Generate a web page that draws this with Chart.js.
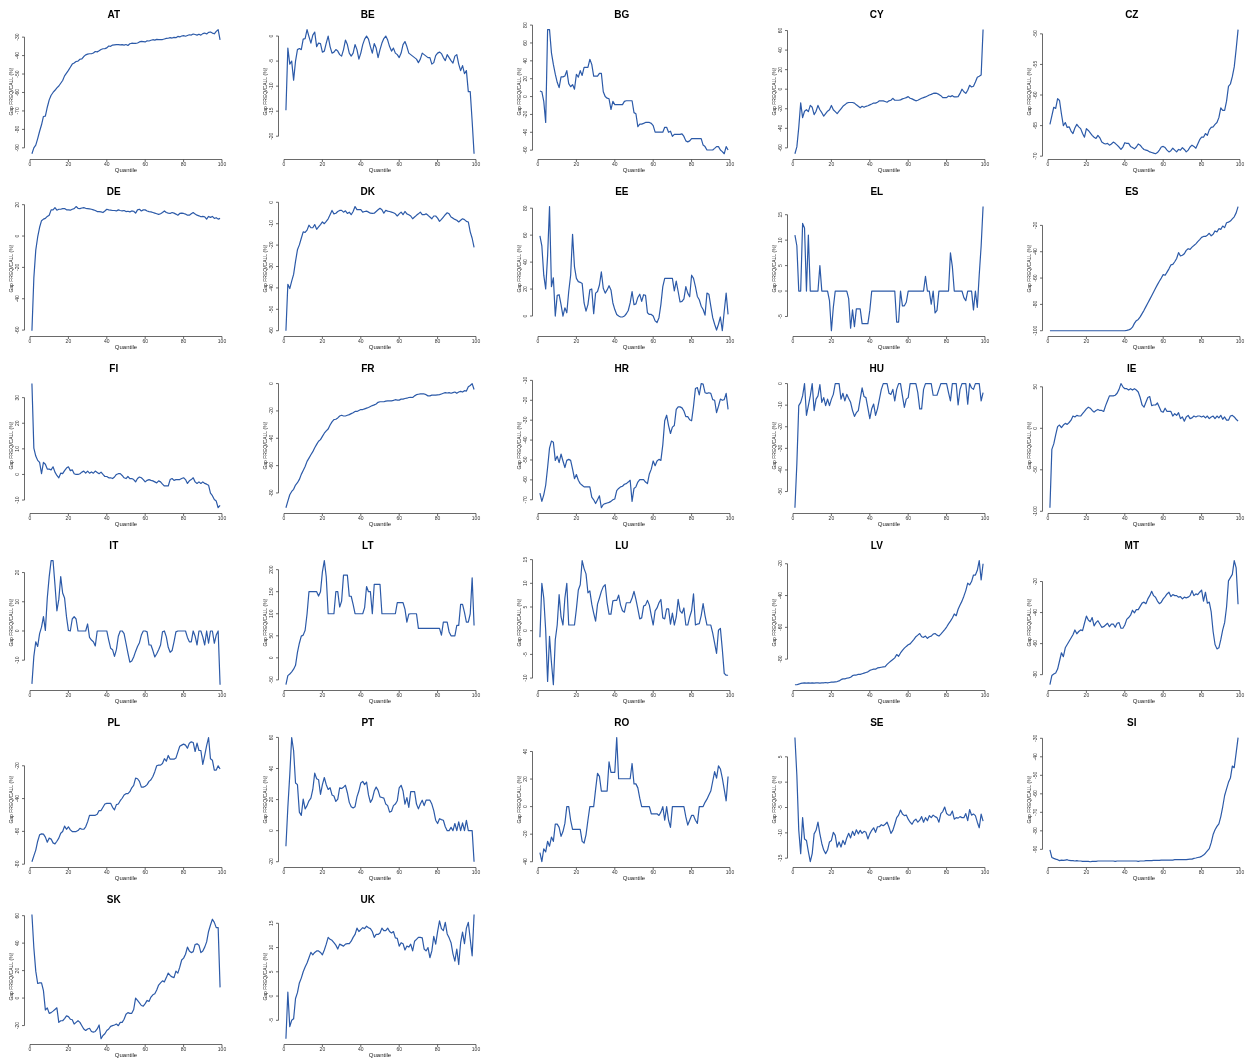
<!DOCTYPE html>
<html>
<head>
<meta charset="utf-8">
<title>Gap by quantile, by country</title>
<script src="https://cdn.jsdelivr.net/npm/chart.js@4.4.1/dist/chart.umd.min.js"></script>
<style>
  html, body { margin: 0; padding: 0; background: #fff; }
  #grid { position: relative; width: 1253px; height: 1061px; overflow: hidden; }
  #grid canvas { position: absolute; }
</style>
</head>
<body>
<div id="grid"></div>
<script>
// ============================================
// Data
// ============================================

const quantiles = [
  1, 2, 3, 4, 5, 6, 7, 8, 9, 10,
  11, 12, 13, 14, 15, 16, 17, 18, 19, 20,
  21, 22, 23, 24, 25, 26, 27, 28, 29, 30,
  31, 32, 33, 34, 35, 36, 37, 38, 39, 40,
  41, 42, 43, 44, 45, 46, 47, 48, 49, 50,
  51, 52, 53, 54, 55, 56, 57, 58, 59, 60,
  61, 62, 63, 64, 65, 66, 67, 68, 69, 70,
  71, 72, 73, 74, 75, 76, 77, 78, 79, 80,
  81, 82, 83, 84, 85, 86, 87, 88, 89, 90,
  91, 92, 93, 94, 95, 96, 97, 98, 99
];

const xTicks = [0, 20, 40, 60, 80, 100];

const AT = [
  -93.2, -90, -88.5, -85, -81, -77.5, -73, -72.8, -68, -64,
  -61.5, -60, -58.8, -57.5, -56.5, -55, -53.5, -51, -49.5, -48,
  -46.3, -44.6, -44, -43.2, -43, -42, -41.8, -40.5, -39.6, -39.2,
  -39, -39, -38.6, -37.8, -38, -37.4, -36.7, -36.3, -36.2, -35.8,
  -34.8, -35, -34.3, -34.2, -34.1, -34.1, -34.2, -34.1, -34.3, -34,
  -34.5, -33.6, -33.3, -33.4, -33.4, -33.2, -32.6, -32.3, -32.4, -32.6,
  -32, -32.1, -31.7, -31.4, -31.6, -31.2, -31.4, -31.4, -31.3, -31,
  -30.7, -30.6, -30.3, -30.5, -30.1, -30.3, -29.6, -29.9, -29.4, -29.2,
  -29.5, -29.1, -28.7, -28.9, -28.3, -28.6, -28.9, -28.4, -28.9, -28.1,
  -27.8, -28.3, -27.4, -27.2, -27.8, -28.2, -26.9, -25.9, -31.5
];
const AT_TICKS = [-90, -80, -70, -60, -50, -40, -30];

const BE = [
  -14.8, -2.4, -5.6, -5.0, -8.8, -5.0, -2.7, -2.5, -2.7, -0.6,
  -0.5, 1.3, -0.1, -1.4, 0.2, 0.8, -2.1, -1.4, -1.5, -3.2,
  -3.0, -1.4, 0.0, -2.1, -3.4, -3.2, -2.7, -3.0, -3.7, -4.0,
  -2.7, -0.8, -1.7, -3.4, -4.0, -3.4, -1.7, -2.7, -4.6, -3.4,
  -1.7, -0.6, 0.0, -0.6, -2.1, -3.4, -1.5, -2.4, -4.3, -2.7,
  -1.4, -0.5, 0.0, -0.8, -2.1, -3.0, -2.4, -3.4, -3.7, -4.3,
  -3.4, -1.7, -1.1, -2.1, -3.4, -3.7, -4.0, -4.3, -4.6, -5.3,
  -4.6, -3.4, -3.7, -4.0, -4.3, -4.3, -5.6, -5.3, -3.9, -3.4,
  -3.2, -3.5, -4.3, -4.9, -3.7, -4.3, -4.9, -5.4, -4.0, -3.7,
  -5.6, -6.9, -5.9, -7.5, -6.9, -11.1, -11.1, -17.0, -23.5
];
const BE_TICKS = [-20, -15, -10, -5, 0];

const BG = [
  6.2, 5.4, -5.4, -29, 75, 75, 49, 36, 25, 16,
  10, 22, 22, 23, 29, 14.5, 11, 13.4, 8.3, 25,
  21.7, 29, 23.6, 32.6, 32.6, 32.6, 41.7, 36, 22.8, 22.8,
  22.8, 26, 26, 5.4, 0, -1.8, -2.5, -14.5, -5.4, -9,
  -9, -9, -9, -9, -5.4, -4.7, -4.7, -4.7, -4.7, -18,
  -19.2, -33.7, -30.8, -30.8, -30, -29, -29, -29, -30, -32.6,
  -39.9, -39.9, -39.9, -39.9, -39.9, -34.4, -34.4, -40, -38.8, -44.6,
  -42.4, -42.4, -42.4, -42.4, -41.7, -44.6, -49.6, -50.7, -49.6, -47,
  -47, -47, -47, -47, -47, -54.3, -56, -59.8, -59.8, -59.8,
  -59.8, -58, -56, -56, -59.8, -61.6, -64, -56, -59.8
];
const BG_TICKS = [-60, -40, -20, 0, 20, 40, 60, 80];

const CY = [
  -66, -59, -39, -14, -29, -22.5, -21, -23, -16.5, -18.5,
  -26, -22.5, -16.6, -21, -24, -27.5, -25, -22.5, -21, -16.6,
  -21, -23, -25, -22.5, -20, -17.5, -16, -14.2, -13.6, -13.6,
  -13.6, -14.2, -16, -17.5, -19, -17.5, -18.5, -17.5, -16.9, -16,
  -15.2, -14.2, -14.2, -13.3, -11.9, -11.9, -11.9, -12.6, -13.3, -11.9,
  -11.3, -9.3, -11.3, -11.3, -11.3, -10.9, -9.9, -9.3, -8.6, -7.6,
  -9.3, -9.9, -10.9, -11.9, -11.3, -10.3, -9.3, -8.6, -7.9, -7,
  -5.9, -5.3, -4.3, -4, -4.3, -5.3, -6.6, -8.6, -8.6, -8.6,
  -7, -7.6, -6.6, -7.9, -7.9, -7.6, -4.3, 0, -2.6, -4.3,
  -1, 4, 2.3, 3, 7.3, 12.3, 13.3, 14.6, 61
];
const CY_TICKS = [-60, -40, -20, 0, 20, 40, 60];

const CZ = [
  -64.8, -63.4, -62.0, -62.2, -60.6, -60.9, -63.1, -65.0, -64.5, -65.3,
  -65.2, -65.9, -66.3, -65.4, -64.8, -65.2, -65.5, -66.3, -66.9, -65.5,
  -65.8, -66.2, -66.6, -66.9, -67.1, -66.6, -67.0, -67.7, -67.9, -68.0,
  -67.9, -68.2, -68.0, -67.7, -67.9, -68.2, -68.5, -68.9, -68.5, -67.8,
  -67.9, -67.9, -68.4, -68.6, -68.8, -68.5, -68.0, -68.2, -68.6, -68.9,
  -69.0, -69.1, -69.3, -69.4, -69.5, -69.6, -69.4, -69.0, -68.5, -68.4,
  -68.6, -69.0, -69.3, -69.1, -68.7, -69.0, -69.3, -68.9, -69.0, -68.6,
  -68.9, -69.3, -69.0, -68.5, -68.2, -68.4, -68.7, -68.0, -67.3, -66.9,
  -66.9, -66.3, -66.6, -65.7, -65.3, -65.2, -64.8, -64.5, -63.7, -62.1,
  -62.5, -62.5, -61.0, -58.6, -58.2, -57.0, -55.4, -52.5, -49.3
];
const CZ_TICKS = [-70, -65, -60, -55, -50];

const DE = [
  -60.4, -26.7, -9, -0.6, 5.6, 9.8, 10.8, 11.3, 12.5, 13.3,
  16.7, 16.7, 18.1, 16.5, 17.1, 17.1, 17.5, 17.5, 16.7, 16.7,
  16.5, 17.1, 17.5, 18.8, 17.7, 17.5, 17.9, 18.1, 17.7, 17.5,
  17.3, 17.1, 16.7, 16.3, 15.6, 15.6, 15.4, 15, 16, 17.1,
  16.7, 16.5, 16.3, 16.3, 16, 16.7, 16.3, 16, 16.3, 15.6,
  15.8, 15.4, 16, 15.8, 14.6, 16.7, 17.1, 16, 16.7, 16.7,
  16, 15.6, 15.4, 15, 14.6, 14.2, 13.8, 14.2, 15, 16,
  15, 14.6, 14.4, 15, 14.6, 14, 13.3, 14.4, 14.6, 14.4,
  14, 13.3, 13.3, 14.2, 15, 14, 13.3, 12.9, 12.3, 12.5,
  12.3, 10.8, 12.5, 11.9, 12.5, 11.3, 11.7, 10.8, 11.3
];
const DE_TICKS = [-60, -40, -20, 0, 20];

const DK = [
  -60, -38.3, -40.3, -36.8, -33.7, -27.6, -22.2, -19.9, -16.8, -13.8,
  -14.1, -13, -10.7, -11.9, -11.9, -10.4, -12.6, -11.5, -10.4, -9.2,
  -10, -8.9, -7.7, -5.8, -3.8, -5.4, -5.1, -4.3, -3.8, -3.8,
  -4.6, -4, -5.2, -4.6, -5.8, -4.3, -2, -3.4, -3.4, -3.4,
  -4.6, -4.3, -4.1, -4.6, -5.1, -5.2, -5.1, -4.3, -3.5, -2.8,
  -3.5, -5.1, -3.8, -4.1, -4.3, -4.6, -4.9, -5.4, -6.4, -5.4,
  -4.6, -5.8, -4.3, -5.4, -5.8, -6.4, -7.7, -6.9, -6.1, -5.4,
  -4.6, -5.8, -5.8, -5.4, -6.1, -6.9, -7.7, -6.4, -6.4, -7.4,
  -8.9, -8, -6.9, -5.8, -4.9, -5.4, -6.9, -7.4, -8, -8.4,
  -9.2, -8.4, -7.7, -8.1, -8.9, -9.2, -13.8, -16.8, -21.1
];
const DK_TICKS = [-60, -50, -40, -30, -20, -10, 0];

const EE = [
  59.4, 52.1, 30.3, 20.1, 44.8, 81.2, 21.8, 28.4, 0, 15.3,
  15.8, 8.5, 0, 6.1, 2.4, 18.2, 30.3, 60.6, 36.4, 27.9,
  25.5, 25, 24.2, 9.7, 3.6, 8.5, 19.4, 20.1, 1.7, 17,
  18.2, 23, 32.7, 20.6, 17, 19.4, 22.5, 19.4, 9.7, 4.8,
  1.2, 0, -0.7, -0.7, 0, 1.7, 4.1, 9.7, 18.2, 8.5,
  9, 13.8, 16.2, 10.9, 15.8, 15.3, 2.4, 1.2, 1.2, 0,
  -3.6, -4.8, -1.2, 8.5, 21.8, 27.9, 27.9, 27.9, 27.9, 27.9,
  18.7, 25.9, 18.2, 10.4, 10.9, 12.8, 21.8, 17, 14.3, 30.3,
  27.9, 21.8, 14.5, 12.1, 7.3, 4.8, 0.7, 17, 16.2, 7.3,
  -1.2, -6.1, -10.4, -6.1, -0.7, -10.9, 3.6, 17, 1.2
];
const EE_TICKS = [0, 20, 40, 60, 80];

const EL = [
  11, 8.9, 0, 0, 13.3, 12.4, 0, 11, 0, 0,
  0, 0, 0, 5, 0, 0, 0, 0, -1.9, -7.8,
  -3.2, 0, 0, 0, 0, 0, 0, 0, -1.5, -7.3,
  -3.7, -7, -3.5, -3.5, -3.5, -6.4, -6.4, -6.4, -6.4, -3.8,
  0, 0, 0, 0, 0, 0, 0, 0, 0, 0,
  0, 0, 0, -6.1, -6.1, 0, -2.9, -2.9, -2.2, 0,
  0, 0, 0, 0, 0, 0, 0, 0, 2.9, 0,
  0, -2.6, 0, -4.3, -3.8, 0, 0, 0, 0, 0,
  0, 7.5, 4.8, 0, 0, 0, 0, 0, -1.3, -1.9,
  0, 0, 0, -3.7, 0, -3.2, 3.2, 8.9, 16.6
];
const EL_TICKS = [-5, 0, 5, 10, 15];

const ES = [
  -100, -100, -100, -100, -100, -100, -100, -100, -100, -100,
  -100, -100, -100, -100, -100, -100, -100, -100, -100, -100,
  -100, -100, -100, -100, -100, -100, -100, -100, -100, -100,
  -100, -100, -100, -100, -100, -100, -100, -100, -100, -100,
  -99.7, -99.3, -98.8, -97.3, -94.4, -92.4, -91.4, -89.5, -87, -84.5,
  -81.7, -79, -76.2, -73.4, -70.6, -67.8, -65, -62.4, -60, -57.4,
  -57.9, -55.5, -53, -50, -49.6, -47.6, -45.1, -40.7, -43.2, -42.7,
  -41.5, -39, -37.7, -38.2, -36.5, -35.3, -34, -32.3, -30.8, -29.1,
  -28.4, -28.4, -27.4, -26, -27.9, -26.7, -24.2, -24.9, -22.5, -23,
  -20.5, -21.7, -18, -17.5, -16.7, -15, -13.5, -10.5, -5.7
];
const ES_TICKS = [-100, -80, -60, -40, -20];

const FI = [
  35.5, 10.3, 7.2, 5.5, 4.7, 0.3, 4.7, 4, 2.1, 2.1,
  1.8, 3, 0.9, -0.4, -1.3, 0.5, 0.3, 1.5, 2.5, 3,
  1.5, 1.8, 0.3, 0, 0, 0.3, 0.9, 1.3, 0.5, 1.3,
  0.5, 1, 0.5, 1.3, 0.8, 0.3, 0.9, 0, -0.8, -0.8,
  -1.3, -1.3, -1.6, -1, 0, 0.3, 0.3, -0.4, -1.3, -1.6,
  -0.8, -1.6, -1.6, -2, -2.9, -1.6, -1, -1.3, -2, -2.9,
  -2.3, -2, -2.3, -2.5, -2.9, -3.3, -2.5, -2.9, -3.8, -4.5,
  -4.5, -4.5, -2, -1.6, -2.3, -2, -2, -2, -1.6, -1.3,
  -2, -3.5, -2.5, -2, -1.3, -2.9, -3.5, -2.9, -3.5, -2.9,
  -3.5, -3.8, -4.2, -7.3, -8.3, -9.8, -10.4, -13, -12.1
];
const FI_TICKS = [-10, 0, 10, 20, 30];

const FR = [
  -90.8, -86, -81.3, -78.9, -77.3, -74.2, -72.5, -70.1, -66.4, -63.5,
  -60.7, -56.9, -54.5, -52.1, -49.8, -46.9, -44.5, -42.2, -41, -38.6,
  -36.3, -34.6, -33.2, -30.3, -28, -26.3, -26.1, -25.1, -23.7, -23.2,
  -23.7, -23.7, -23.2, -22.7, -22, -21.3, -20.4, -20.4, -19.7, -19,
  -19, -18.5, -18, -17.5, -16.8, -16.1, -15.6, -14.9, -13.7, -13.3,
  -13.3, -13.3, -12.8, -12.6, -12.6, -12.6, -12.3, -11.8, -12.1, -12.1,
  -11.4, -11.4, -10.9, -10.7, -10.2, -10, -10.2, -9, -8.1, -7.8,
  -7.6, -7.6, -7.6, -8.1, -9, -9, -8.5, -8.5, -8.5, -8.3,
  -8.1, -7.6, -7.1, -6.6, -6.9, -6.6, -7.1, -6.6, -6.2, -7.1,
  -6.2, -5.7, -6.2, -5.2, -5.5, -2.4, -1.4, 0, -4.3
];
const FR_TICKS = [-80, -60, -40, -20, 0];

const HR = [
  -66.7, -70.8, -67.5, -62.7, -53.8, -44, -40.5, -41.1, -50.2, -48.1,
  -51.3, -47, -50.5, -53.8, -50.2, -49.7, -50.2, -54.6, -59.4, -57.3,
  -60.2, -61.9, -62.7, -63.5, -63.5, -63.5, -63.5, -68.7, -70, -71.9,
  -70, -68, -74, -72.4, -71.9, -71.6, -71.3, -70.8, -70, -69.6,
  -65.4, -64.3, -63.5, -63.2, -62.2, -61.9, -61.1, -60.2, -70.8, -64.3,
  -63.5, -61.1, -59.9, -59.9, -59.9, -61.1, -61.9, -57, -54.6, -50.5,
  -52.9, -50.5, -49.7, -50.2, -42.4, -30.3, -27.5, -32.7, -36.7, -33.5,
  -32.7, -24.6, -23.3, -23.3, -23.8, -25.4, -28.2, -28.2, -29.8, -30.3,
  -23, -14.1, -13.6, -17.3, -11.6, -11.9, -16.2, -16.5, -16.2, -16.5,
  -19.7, -20, -26.2, -23, -19.4, -20, -19.7, -16.5, -24.6
];
const HR_TICKS = [-70, -60, -50, -40, -30, -20, -10];

const HU = [
  -57.5, -37.2, -10.2, -8.7, -5.7, 0, -14.7, -10.2, -5.7, 0,
  -12.5, -7.2, -5.7, -0.5, -8.7, -6.5, -10.2, -7.2, -10.2, -7.2,
  -5, 0, 0, 0, -7.2, -4.5, -8, -5, -6.9, -8.7,
  -12.5, -15.2, -13.5, -12.5, -7.2, -2, -6, -6.5, -11.4, -16.2,
  -11.7, -9.5, -14.7, -11.7, -7.2, -2.7, 0, 0, 0, -4.5,
  -5, -2.7, -8, -2.7, 0, 0, -5.7, -11, -7.2, -6.5,
  0, 0, 0, 0, -4.2, -11.7, -11.7, -2.7, 0, 0,
  0, 0, -5.4, -5.4, -5.4, -2.7, 0, 0, 0, 0,
  -4.2, -8, 0, 0, 0, -9.9, -2.7, 0, 0, 0,
  -9.5, 0, -2, -2.7, 0, 0, 0, -8, -4.2
];
const HU_TICKS = [-50, -40, -30, -20, -10, 0];

const IE = [
  -95.7, -25.4, -18.8, -7.8, 2, 3.9, 0.8, 3.9, 5.9, 4.7,
  7, 9.8, 14.8, 13.7, 15.6, 14.8, 14.8, 17.6, 20.3, 23.4,
  25.4, 24.2, 21.5, 19.5, 21.5, 22.7, 21.5, 21.5, 20.3, 27.3,
  33.2, 39.1, 39.1, 39.1, 39.8, 42.2, 46.9, 53.9, 50, 47.7,
  47.7, 46.1, 47.7, 46.1, 47.7, 46.1, 43.8, 37.1, 28.1, 25.4,
  31.3, 37.1, 38.3, 27.3, 28.1, 28.1, 30.5, 25.4, 20.3, 19.5,
  24.2, 20.3, 20.3, 20.3, 14.8, 17.6, 15.6, 18.8, 11.7, 13.7,
  8.6, 13.7, 15.6, 11.7, 12.5, 14.8, 13.7, 14.8, 14.8, 13.7,
  14.8, 12.5, 14.8, 11.7, 13.7, 14.8, 11.7, 14.8, 12.5, 15.6,
  10.9, 13.7, 9.8, 9.8, 14.8, 15.6, 13.7, 10.9, 8.6
];
const IE_TICKS = [-100, -50, 0, 50];

const IT = [
  -18.1, -8.7, -3.7, -5.3, -0.9, 1.3, 4.9, 0.2, 11.3, 18.6,
  24.1, 24.1, 15.8, 6.9, 10.8, 18.6, 13, 11.3, 4.9, 0.2,
  0, 4.1, 4.9, 4.1, 0, 0, 0, 0, 0, 2.4,
  -2.2, -3.1, -3.7, -5.1, 0, 0, 0, 0, 0, 0,
  -3.1, -5.9, -6.4, -8.7, -6.4, -1.8, 0, 0, -0.9, -4.2,
  -7.6, -10.7, -10.3, -8.9, -7, -5.3, -4, -1.4, 0, 0,
  -0.3, -4.8, -4.8, -6.7, -8.9, -7.8, -6.4, -4.8, -0.3, 0,
  -2, -5.6, -7.3, -6.7, -3.7, -0.3, 0, 0, 0, 0,
  0, -2.2, -3.7, -3.7, 0, -1.8, -4.8, 0, 0, -2,
  -4.8, 0, -4.2, 0, 0, -4.2, -1.4, 0, -18.4
];
const IT_TICKS = [-10, 0, 10, 20];

const LT = [
  -61, -40.4, -36.8, -31.6, -25.7, -16.9, 12.5, 33.1, 49.3, 51.5,
  62.5, 99.3, 150, 150, 150, 150, 150, 140, 150, 194.9,
  220.6, 183.8, 100, 100, 100, 100, 150, 150, 115.4, 128.7,
  187.5, 187.5, 187.5, 139.7, 139.7, 121.3, 100, 100, 100, 100,
  100, 114, 161.8, 150, 150, 100, 166.7, 166.7, 166.7, 166.7,
  100, 100, 100, 100, 100, 100, 100, 100, 125, 125,
  125, 125, 110.3, 80.9, 99.3, 100, 100, 100, 100, 66.7,
  66.7, 66.7, 66.7, 66.7, 66.7, 66.7, 66.7, 66.7, 66.7, 66.7,
  66.7, 51.5, 80.9, 80.9, 80.9, 58.8, 50, 50, 50, 73.5,
  73.5, 121.3, 121.3, 102.9, 80.9, 80.9, 100, 181.6, 73.5
];
const LT_TICKS = [-50, 0, 50, 100, 150, 200];

const LU = [
  -1.4, 10, 6.9, 0.1, -10.7, -1.2, -6.7, -11.4, -1.9, 1.2,
  7.6, 2.9, 1.2, 6.9, 10, 1.2, 1.2, 1.2, 1.2, 4.6,
  8.6, 9.7, 14.8, 13.1, 12, 8, 8.4, 5.6, 3.7, 2,
  5.6, 6.9, 8.3, 9.3, 9.7, 5.9, 3.5, 3.5, 6.3, 6.4,
  6.4, 7.5, 5.4, 4.2, 3.9, 5.9, 5.9, 5.9, 6.9, 8.3,
  6.6, 4.6, 2.5, 2.7, 5.2, 5.4, 6.4, 5.4, 3.2, 1.2,
  4.2, 4.8, 5.9, 6.6, 2.7, 2.5, 4.6, 4.6, 1.4, 3.7,
  1.2, 2.9, 6.6, 4.2, 3.7, 4.8, 1.2, 1.2, 2.9, 4.2,
  7.8, 1.2, 1.4, 1.5, 3.2, 5.7, 3.2, 1.2, 1.2, 1.2,
  -0.5, -2.6, -4.8, 0.1, 0.5, -3.9, -9, -9.4, -9.4
];
const LU_TICKS = [-10, -5, 0, 5, 10, 15];

const LV = [
  -96.1, -96.1, -95.7, -95.3, -95.1, -94.9, -95.1, -94.9, -95.1, -94.9,
  -95.1, -94.9, -94.9, -95.1, -94.9, -94.9, -94.7, -94.9, -94.7, -94.5,
  -94.5, -94.3, -94.1, -93.7, -92.9, -92.4, -92.4, -92, -91.8, -91.4,
  -90.4, -90, -90, -89.6, -89.6, -89.2, -88.8, -88.4, -88, -87.1,
  -86.7, -86.3, -86.3, -85.5, -85.3, -85.1, -84.9, -84.7, -83.3, -82.2,
  -81.2, -80.2, -79.2, -77.1, -78.2, -76.1, -74.5, -73.1, -72, -71,
  -70.4, -69, -67.6, -65.9, -64.9, -63.9, -65.9, -66.3, -65.5, -66.9,
  -65.9, -65.5, -64.3, -63.9, -64.9, -65.5, -64.3, -62.9, -61.4, -59.8,
  -57.8, -56.1, -54.1, -51.6, -52.7, -48.6, -45.9, -43.5, -40.4, -36.9,
  -32.2, -33.3, -31.2, -27.1, -27.1, -24.1, -18, -30.2, -20
];
const LV_TICKS = [-80, -60, -40, -20];

const MT = [
  -86.5, -80.6, -79.6, -78.9, -76.4, -71.2, -65.9, -68.4, -62.7, -60.6,
  -58.5, -56.4, -54.3, -51.2, -53.7, -52.2, -51.2, -51.6, -46.9, -42.3,
  -44.8, -45.9, -43.2, -48.6, -46.5, -45.3, -47.4, -49.5, -49.1, -48,
  -46.9, -49.1, -47.4, -47.4, -49.5, -46.9, -46.5, -50.1, -50.1, -48,
  -44.4, -43.2, -41.7, -38.5, -40.2, -38.1, -38.1, -36, -33.9, -33.3,
  -34.3, -31.2, -29.1, -26.3, -29.1, -30.1, -32.6, -34.3, -33.3, -31.2,
  -29.7, -28, -26.9, -29.7, -28.4, -29.1, -29.1, -30.1, -29.7, -31.2,
  -30.1, -30.5, -30.1, -29.1, -25.9, -29.1, -28, -28.4, -26.9, -25.5,
  -32.6, -26.9, -33.9, -33.3, -39.6, -52.2, -60.6, -63.4, -62.7, -57.5,
  -51.2, -46.5, -36.4, -19.6, -17.5, -15.4, -6.5, -11.2, -34.7
];
const MT_TICKS = [-80, -60, -40, -20];

const PL = [
  -78.5, -74.9, -71.4, -66, -62.1, -61.5, -61.7, -63.5, -66.6, -64.1,
  -64.7, -67, -67.6, -66, -64.1, -61.1, -60.1, -56.8, -58.7, -57.2,
  -59.1, -60.1, -60.1, -60.1, -59.5, -58.1, -58.7, -58.7, -57.2, -54.2,
  -50.2, -50.2, -50.2, -50.2, -49.6, -47.3, -47.3, -45.3, -43.3, -42.9,
  -42.9, -42.9, -45.3, -46.9, -43.7, -43.3, -41.3, -39.8, -37.8, -37,
  -37, -35.8, -33.4, -31.9, -27.5, -27.9, -29.5, -33, -33, -32.5,
  -31.5, -29.5, -28.5, -26.5, -23.6, -20, -19.6, -19.6, -18.6, -15.7,
  -17.2, -13.7, -16, -16, -16, -15.3, -11.7, -8.1, -7.4, -6.8,
  -7.4, -9.3, -6.2, -5.4, -5.8, -11.3, -6.2, -10.7, -10.7, -19.2,
  -13.7, -7.7, -2.8, -15.7, -16.6, -22.6, -22.6, -20, -22
];
const PL_TICKS = [-80, -60, -40, -20];

const PT = [
  -10, 15, 35.9, 59.9, 51.6, 30.7, 29.6, 11.9, 9.8, 20.3,
  14, 16.1, 19.2, 20.9, 26.5, 37, 33.4, 32.8, 23.4, 29.6,
  34.2, 29.6, 26.5, 27.6, 23, 22.3, 18.8, 20.3, 27.6, 27.1,
  28, 29.2, 24.4, 18.2, 15.4, 14.6, 15.4, 21.7, 25.5, 30.7,
  31.7, 29.6, 31.3, 23, 18.2, 20.3, 25.5, 28, 25.9, 21.7,
  21.3, 20.9, 17.1, 16.1, 11.9, 12.5, 16.1, 17.1, 19.2, 27.6,
  29.2, 25.5, 17.1, 21.3, 15, 25.1, 25.1, 25.1, 17.1, 14,
  17.1, 19.6, 16.1, 19.6, 19.6, 19.6, 17.1, 12.9, 6.7, 4.6,
  7.7, 7.1, 6.7, 2.5, 0, 0, 2.1, 0, 4.6, 0,
  5.6, 0, 5, 0, 6.7, 0, 0, 0, -20
];
const PT_TICKS = [-20, 0, 20, 40, 60];

const RO = [
  -33.4, -40, -30.6, -32.9, -25.2, -28.7, -22.1, -25.2, -12.7, -12.7,
  -15.1, -21.6, -18.1, -12.2, 0, 0, -9.9, -16.5, -16.5, -16.5,
  -16.5, -16.5, -25.2, -26.4, -20.5, -9.9, 0, 0, 0, 12.5,
  24.2, 21.9, 11.3, 11.3, 11.3, 11.3, 32.5, 24.9, 24.9, 24.9,
  50.1, 20.2, 20.2, 20.2, 20.2, 20.2, 20.2, 20.2, 31.3, 16.5,
  16.5, 13.6, 6.1, 0, 0, 0, 0, 0, -5.2, -5.2,
  -5.2, -5.2, -6.4, -4, 0, -9.9, 0, -9.9, -15.1, 0,
  0, 0, 0, 0, 0, 0, -7.5, -13.4, -9.9, -6.4,
  -6.4, -9.9, -12.2, 0, 0, 0, 3.1, 5.4, 8.5, 11.3,
  18.4, 25.4, 20.7, 29.6, 27.3, 20.7, 12.5, 4.2, 21.9
];
const RO_TICKS = [-40, -20, 0, 20, 40];

const SE = [
  8.8, 1.4, -9.5, -14.1, -7, -11.2, -11.5, -13.7, -15.7, -14.1,
  -10.2, -9.5, -7.9, -10.2, -12.1, -13.4, -14.1, -13.4, -11.8, -11.5,
  -9.9, -10.5, -12.8, -11.8, -12.8, -11.5, -12.3, -11, -10.1, -11,
  -9.7, -10.5, -9.4, -10.2, -9.5, -10.1, -9.7, -9.9, -11.2, -10.2,
  -9.5, -9, -9.9, -8.8, -8.8, -8.4, -8.6, -8.3, -7.9, -8.9,
  -10.1, -9.5, -8.3, -7, -6.5, -5.5, -6.3, -6.6, -6.5, -7.3,
  -7.9, -8.3, -7.6, -7.3, -7.9, -7.5, -6.8, -7.9, -7, -7.6,
  -6.6, -7, -6.5, -6.8, -7, -7.9, -6.2, -5.8, -4.9, -6.2,
  -6.5, -6.5, -5.7, -7.3, -7, -7.1, -6.8, -7, -7, -6.2,
  -7.6, -5.4, -6.5, -6.3, -6.6, -7.9, -9, -6.3, -7.7
];
const SE_TICKS = [-15, -10, -5, 0, 5];

const SI = [
  -90.3, -94.4, -94.9, -95.3, -95.6, -96.1, -95.8, -96, -95.8, -95.6,
  -96, -96.1, -96.1, -96.3, -96.1, -96.3, -96.3, -96.5, -96.5, -96.5,
  -96.5, -96.7, -96.5, -96.5, -96.5, -96.3, -96.3, -96.3, -96.3, -96.3,
  -96.3, -96.3, -96.3, -96.3, -96.5, -96.3, -96.3, -96.3, -96.3, -96.3,
  -96.3, -96.3, -96.3, -96.3, -96.3, -96.3, -96.5, -96.3, -96.3, -96.3,
  -96.1, -96.1, -96.1, -96.1, -96, -96, -96, -96, -95.8, -95.8,
  -95.8, -95.8, -95.8, -95.8, -95.8, -95.6, -95.6, -95.6, -95.6, -95.6,
  -95.6, -95.6, -95.4, -95.3, -95.3, -94.9, -94.7, -94.4, -94.2, -93.8,
  -93.1, -92.1, -90.8, -89.6, -86.4, -82, -79.4, -77.6, -76.2, -72.3,
  -67, -60.9, -57.3, -53.8, -51.5, -45, -45.9, -37.9, -29.6
];
const SI_TICKS = [-90, -80, -70, -60, -50, -40, -30];

const SK = [
  60.8, 36.6, 19.6, 10.6, 11.1, 11.1, 5.4, -8.7, -7.1, -11.1,
  -10.6, -9.5, -8.3, -7.1, -17.7, -16.5, -16.5, -14.9, -13, -13.5,
  -15.4, -15.8, -18.9, -17.7, -16.5, -17.7, -20.1, -22.5, -23.6, -22.5,
  -22, -24.3, -24.8, -24.3, -22.5, -19.6, -29.6, -27.2, -26, -23.6,
  -22.5, -20.6, -20.1, -19.6, -18.9, -20.1, -17.7, -17.7, -15.4, -11.8,
  -10.6, -11.1, -11.1, -8.3, 0, -1.7, -3.5, -5.4, -5.9, -4,
  -1.7, -2.4, 0.7, 2.4, 3.1, 5.9, 9.5, 11.1, 12.5, 11.8,
  14.9, 18.2, 16.5, 15.4, 14.9, 19.6, 18.2, 22.5, 27.7, 29.1,
  31.9, 37.1, 34.3, 33.1, 33.8, 39, 39.5, 38.5, 33.1, 34.3,
  37.1, 40.9, 48.5, 53.2, 57.4, 55.1, 51.3, 51.3, 7.8
];
const SK_TICKS = [-20, 0, 20, 40, 60];

const UK = [
  -8.8, 0.8, -6.3, -5, -4.7, -0.5, 0.7, 2.7, 3.7, 5,
  6, 6.8, 7.9, 9, 8.5, 9, 9.3, 9.3, 9, 8.5,
  9.5, 10.7, 12.1, 11.7, 11.5, 11, 10.5, 9.7, 10.7, 10.5,
  10.3, 10.7, 10.8, 10.8, 11.3, 12.1, 12.7, 14, 13.3, 13.7,
  14.1, 13.9, 14.4, 14.1, 13.9, 13.3, 12.1, 12.7, 12.7, 13,
  14, 13.5, 13.5, 14, 13.3, 13, 13.3, 12, 11.9, 10.3,
  11, 10.8, 9.5, 10.3, 10.1, 10.7, 9.3, 11.3, 11.7, 12.1,
  12.1, 12, 9.7, 9.3, 10, 7.9, 9.3, 12.3, 10.7, 13.3,
  15.5, 13.9, 13.5, 15.2, 12.8, 12, 11, 8.7, 7.2, 9.7,
  6.5, 11, 13.2, 10.8, 14, 15.2, 11.7, 8.3, 16.8
];
const UK_TICKS = [-5, 0, 5, 10, 15];

// panel order, row by row
const panels = [
  ['AT', AT, AT_TICKS], ['BE', BE, BE_TICKS], ['BG', BG, BG_TICKS], ['CY', CY, CY_TICKS], ['CZ', CZ, CZ_TICKS],
  ['DE', DE, DE_TICKS], ['DK', DK, DK_TICKS], ['EE', EE, EE_TICKS], ['EL', EL, EL_TICKS], ['ES', ES, ES_TICKS],
  ['FI', FI, FI_TICKS], ['FR', FR, FR_TICKS], ['HR', HR, HR_TICKS], ['HU', HU, HU_TICKS], ['IE', IE, IE_TICKS],
  ['IT', IT, IT_TICKS], ['LT', LT, LT_TICKS], ['LU', LU, LU_TICKS], ['LV', LV, LV_TICKS], ['MT', MT, MT_TICKS],
  ['PL', PL, PL_TICKS], ['PT', PT, PT_TICKS], ['RO', RO, RO_TICKS], ['SE', SE, SE_TICKS], ['SI', SI, SI_TICKS],
  ['SK', SK, SK_TICKS], ['UK', UK, UK_TICKS]
];

// ============================================
// Layout
// ============================================

const PANEL_W = 254;
const PANEL_H = 177;
const colLeft = [0, 254, 508, 763, 1018];
const rowTop = [0, 177, 354, 531, 708, 885];
const FONT = '"Liberation Sans", Arial, Helvetica, sans-serif';
const LINE_COLOR = '#2c5aa8';
const AXIS_COLOR = '#444';

Chart.defaults.font.family = FONT;

// R-style axes: lines run only from the first to the last tick
const rAxes = {
    id: 'rAxes',
    afterDraw(chart, args, opts) {
        const { ctx, chartArea } = chart;
        const xs = chart.scales.x;
        const ys = chart.scales.y;
        const yTicks = opts.ticks.filter(v => v >= ys.min && v <= ys.max);

        ctx.save();
        ctx.strokeStyle = AXIS_COLOR;
        ctx.fillStyle = '#333';
        ctx.lineWidth = 0.8;
        ctx.font = '5px ' + FONT;

        // x axis
        const by = Math.round(chartArea.bottom) + 0.5;
        ctx.beginPath();
        ctx.moveTo(xs.getPixelForValue(xTicks[0]), by);
        ctx.lineTo(xs.getPixelForValue(xTicks[xTicks.length - 1]), by);
        xTicks.forEach(v => {
            const px = xs.getPixelForValue(v);
            ctx.moveTo(px, by);
            ctx.lineTo(px, by + 2.5);
        });
        ctx.stroke();
        ctx.textAlign = 'center';
        ctx.textBaseline = 'middle';
        xTicks.forEach(v => ctx.fillText(String(v), xs.getPixelForValue(v), by + 5.5));

        // y axis
        const lx = Math.round(chartArea.left) + 0.5;
        ctx.beginPath();
        ctx.moveTo(lx, ys.getPixelForValue(yTicks[0]));
        ctx.lineTo(lx, ys.getPixelForValue(yTicks[yTicks.length - 1]));
        yTicks.forEach(v => {
            const py = ys.getPixelForValue(v);
            ctx.moveTo(lx, py);
            ctx.lineTo(lx - 2.5, py);
        });
        ctx.stroke();
        yTicks.forEach(v => {
            ctx.save();
            ctx.translate(lx - 6.5, ys.getPixelForValue(v));
            ctx.rotate(-Math.PI / 2);
            ctx.fillText(String(v), 0, 0);
            ctx.restore();
        });
        ctx.restore();
    }
};

// ============================================
// Build the panels
// ============================================

const grid = document.getElementById('grid');
const xPad = (quantiles[quantiles.length - 1] - quantiles[0]) * 0.04;

panels.forEach(([code, values, ticks], i) => {
    const canvas = document.createElement('canvas');
    canvas.width = PANEL_W;
    canvas.height = PANEL_H;
    canvas.style.left = colLeft[i % 5] + 'px';
    canvas.style.top = rowTop[Math.floor(i / 5)] + 'px';
    grid.appendChild(canvas);

    const lo = Math.min(...values);
    const hi = Math.max(...values);
    const yPad = (hi - lo) * 0.04;

    new Chart(canvas.getContext('2d'), {
        type: 'line',
        data: {
            datasets: [{
                data: quantiles.map((q, k) => ({ x: q, y: values[k] })),
                borderColor: LINE_COLOR,
                borderWidth: 1.2,
                borderJoinStyle: 'round',
                pointRadius: 0,
                tension: 0,
                fill: false
            }]
        },
        options: {
            responsive: false,
            animation: false,
            devicePixelRatio: 1,
            layout: { padding: { left: 0, right: 26.4, top: 0, bottom: 0 } },
            plugins: {
                legend: { display: false },
                tooltip: { enabled: false },
                title: {
                    display: true,
                    text: code,
                    color: '#000',
                    font: { size: 10, weight: 'bold', family: FONT },
                    padding: { top: 9, bottom: 3.6 }
                },
                rAxes: { ticks: ticks }
            },
            scales: {
                x: {
                    type: 'linear',
                    min: quantiles[0] - xPad,
                    max: quantiles[quantiles.length - 1] + xPad,
                    grid: { display: false },
                    border: { display: false },
                    ticks: { display: false },
                    title: {
                        display: true,
                        text: 'Quantile',
                        color: '#222',
                        font: { size: 6, family: FONT },
                        padding: { top: 0, bottom: 3.4 }
                    },
                    afterFit(scale) { scale.height = 18.3; }
                },
                y: {
                    type: 'linear',
                    min: lo - yPad,
                    max: hi + yPad,
                    grid: { display: false },
                    border: { display: false },
                    ticks: { display: false },
                    title: {
                        display: true,
                        text: 'Gap FREQ/CALL (%)',
                        color: '#222',
                        font: { size: 5, family: FONT },
                        padding: { top: 9, bottom: 0 }
                    },
                    afterFit(scale) { scale.width = 24.4; }
                }
            }
        },
        plugins: [rAxes]
    });
});
</script>
</body>
</html>
